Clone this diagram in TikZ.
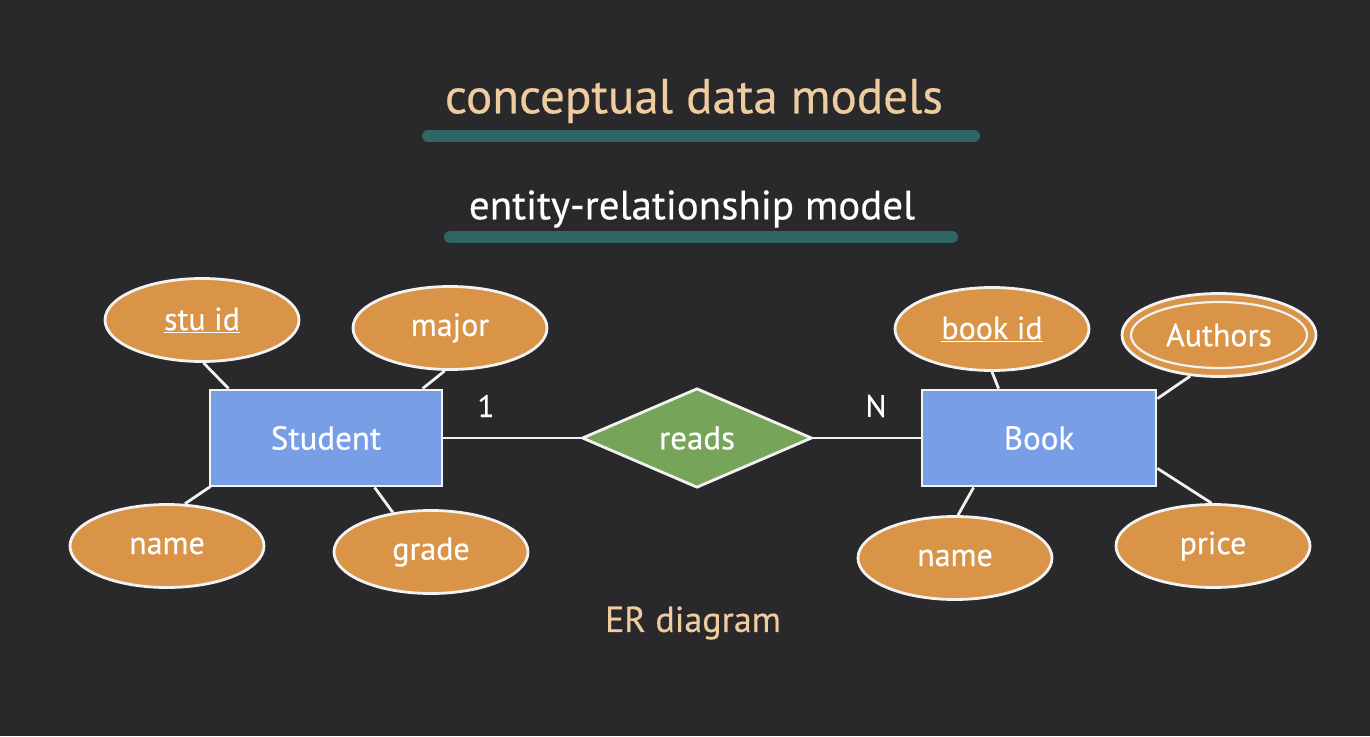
\documentclass[tikz,border=0pt]{standalone}
\usepackage{fontspec}
\setmainfont{PT Sans}[FakeBold=0.4]
\usetikzlibrary{shapes.geometric,calc}
\definecolor{bg}{HTML}{29282B}
\definecolor{peach}{HTML}{EFCBA0}
\definecolor{teal}{HTML}{2F6664}
\definecolor{attrfill}{HTML}{DA9447}
\definecolor{entfill}{HTML}{789EE5}
\definecolor{relfill}{HTML}{76A55A}
\definecolor{edge}{HTML}{F2F2F2}
\tikzset{
  attr/.style={ellipse, fill=attrfill, draw=edge, line width=2.8pt, minimum width=194pt, minimum height=83pt, inner sep=0pt, text=white, font=\fontsize{32}{36}\selectfont},
  ent/.style={rectangle, fill=entfill, draw=edge, line width=2.8pt, minimum width=232pt, minimum height=96pt, inner sep=0pt, text=white, font=\fontsize{33}{38}\selectfont},
  rel/.style={diamond, fill=relfill, draw=edge, line width=2.8pt, minimum width=230pt, minimum height=96pt, inner sep=0pt, text=white, font=\fontsize{33}{38}\selectfont},
  conn/.style={draw=edge, line width=2.8pt},
  bar/.style={draw=teal, line width=12pt, line cap=round},
  card/.style={text=white, font=\fontsize{31}{36}\selectfont}
}
\begin{document}
\begin{tikzpicture}[x=1pt,y=-1pt]
\fill[bg] (0,0) rectangle (1370,736);
\useasboundingbox (0,0) rectangle (1370,736);
% titles
\node[text=peach, font=\fontsize{49}{54}\selectfont] (title) at (694,101) {conceptual data models};
\coordinate (b1a) at (428,136); \coordinate (b1b) at (974,136);
\draw[bar] (b1a) -- (b1b);
\node[text=white, font=\fontsize{41}{46}\selectfont] (sub) at (692,209) {entity-relationship model};
\coordinate (b2a) at (450,237); \coordinate (b2b) at (952,237);
\draw[bar] (b2a) -- (b2b);
% entities and relationship
\node[ent] (student) at (326,438) {Student};
\node[ent, minimum width=234pt] (book) at (1039,438) {Book};
\node[rel] (reads) at (697,438) {reads};
\draw[conn] (student.east) -- (reads.west);
\draw[conn] (reads.east) -- (book.west);
\node[card] (one) at (486,406) {1};
\node[card] (many) at (876,406) {N};
% attributes
\node[attr] (stuid) at (202,320) {\underline{stu id}};
\node[attr] (major) at (450,328) {major};
\node[attr] (sname) at (167,546) {name};
\node[attr] (grade) at (431,552) {grade};
\node[attr] (bookid) at (992,329) {\underline{book id}};
\node[attr, draw=none] (authors) at (1219,335) {Authors};
\draw[edge, line width=2.8pt] (authors.center) ellipse [x radius=97pt, y radius=41.5pt];
\draw[edge, line width=2.2pt] (authors.center) ellipse [x radius=88pt, y radius=33pt];
\node[attr] (bname) at (955,558) {name};
\node[attr] (price) at (1213,546) {price};
% connectors
\draw[conn] (stuid.-88) -- ($(student.north west)+(20,0)$);
\draw[conn] (major.-97) -- ($(student.north west)+(214,0)$);
\draw[conn] (sname.67) -- ($(student.south west)+(2,-1)$);
\draw[conn] (grade.134) -- ($(student.south west)+(166,0)$);
\draw[conn] (bookid.-90) -- ($(book.north west)+(78,0)$);
\draw[conn] (authors.-125) -- ($(book.north east)+(0,10)$);
\draw[conn] (bname.86) -- ($(book.south west)+(53,0)$);
\draw[conn] (price.92) -- ($(book.south east)+(0,-19)$);
\node[text=peach, font=\fontsize{36}{42}\selectfont] (cap) at (693,623) {ER diagram};
\end{tikzpicture}
\end{document}
